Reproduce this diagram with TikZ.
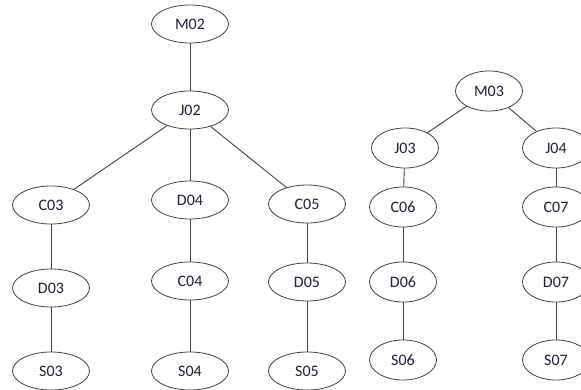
\documentclass[tikz,border=0pt]{standalone}
\usepackage{fontspec}
\setmainfont{Carlito}
\usetikzlibrary{shapes.geometric}
\definecolor{edgegray}{HTML}{404040}
\definecolor{txt}{HTML}{1E1E3C}
\begin{document}
\begin{tikzpicture}[x=1pt,y=-1pt,
  bigell/.style={ellipse,draw=edgegray,line width=0.8pt,minimum width=77pt,minimum height=38pt,inner sep=0pt,font=\fontsize{16}{16}\selectfont,text=txt},
  smallell/.style={ellipse,draw=edgegray,line width=0.8pt,minimum width=67pt,minimum height=40pt,inner sep=0pt,font=\fontsize{16}{16}\selectfont,text=txt},
  link/.style={draw=edgegray,line width=0.9pt}]
\useasboundingbox (0,0) rectangle (581,390);
% left tree
\node[bigell] (M02) at (190,24) {M02};
\node[bigell] (J02) at (190,110) {J02};
\node[bigell] (C03) at (51,205) {C03};
\node[bigell] (D04) at (190,200) {D04};
\node[bigell] (C05) at (307,204) {C05};
\node[bigell] (D03) at (51,288) {D03};
\node[bigell] (C04) at (190,281) {C04};
\node[bigell] (D05) at (307,282) {D05};
\node[bigell] (S03) at (51,371) {S03};
\node[bigell] (S04) at (190,371) {S04};
\node[bigell] (S05) at (307,371) {S05};
% right tree
\node[smallell] (M03) at (489,91) {M03};
\node[smallell] (J03) at (405,148) {J03};
\node[smallell] (J04) at (556,148) {J04};
\node[smallell] (C06) at (403,207) {C06};
\node[smallell] (C07) at (556,207) {C07};
\node[smallell] (D06) at (403,282) {D06};
\node[smallell] (D07) at (556,282) {D07};
\node[smallell] (S06) at (403,360) {S06};
\node[smallell] (S07) at (556,360) {S07};
% links
\draw[link] (M02) -- (J02);
\draw[link] (J02) -- (C03);
\draw[link] (J02) -- (D04);
\draw[link] (J02) -- (C05);
\draw[link] (C03) -- (D03);
\draw[link] (D03) -- (S03);
\draw[link] (D04) -- (C04);
\draw[link] (C04) -- (S04);
\draw[link] (C05) -- (D05);
\draw[link] (D05) -- (S05);
\draw[link] (M03) -- (J03);
\draw[link] (M03) -- (J04);
\draw[link] (J03) -- (C06);
\draw[link] (C06) -- (D06);
\draw[link] (D06) -- (S06);
\draw[link] (J04) -- (C07);
\draw[link] (C07) -- (D07);
\draw[link] (D07) -- (S07);
\end{tikzpicture}
\end{document}
